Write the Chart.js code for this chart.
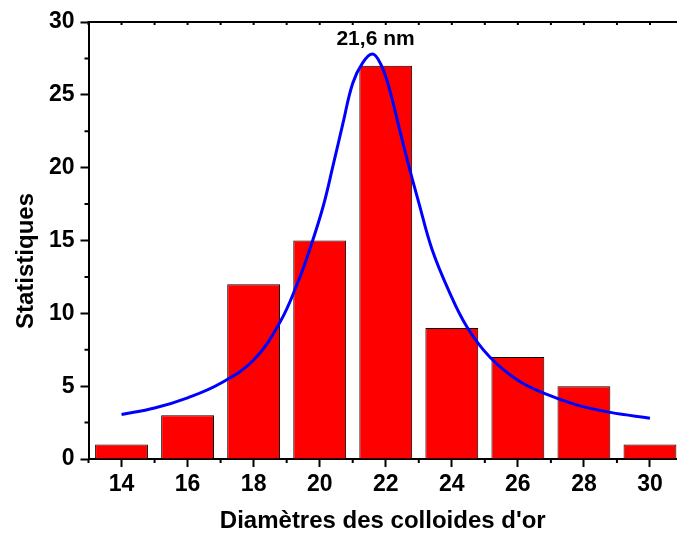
<!DOCTYPE html>
<html>
<head>
<meta charset="utf-8">
<script src="https://cdn.jsdelivr.net/npm/chart.js@4.4.0/dist/chart.umd.min.js"></script>
<style>
html,body{margin:0;padding:0;overflow:hidden;background:#fff}
#wrap{width:677px;height:537px;overflow:hidden}
</style>
</head>
<body>
<div id="wrap"><canvas id="myChart" width="700" height="537"></canvas></div>
<script>
// histogram
var diameters = [14, 16, 18, 20, 22, 24, 26, 28, 30];
var counts = [1, 3, 12, 15, 27, 9, 7, 5, 1];

// fitted curve
var fitX = [14.0, 15.0, 16.0, 17.0, 18.0, 18.8, 19.35, 19.7, 20.1, 20.4, 20.7, 21.0, 21.3, 21.6,
            21.85, 22.1, 22.4, 22.7, 23.0, 23.4, 23.9, 24.45, 25.15, 26.0, 26.8, 27.8, 28.8, 30.0];
var fitY = [3.05, 3.5, 4.2, 5.2, 6.8, 9.4, 12.2, 14.4, 17.3, 20.1, 23.0, 25.8, 27.2, 27.8,
            27.1, 25.5, 22.8, 20.1, 17.6, 14.4, 11.6, 9.1, 7.0, 5.4, 4.5, 3.7, 3.2, 2.8];

var xTicks = [14, 16, 18, 20, 22, 24, 26, 28, 30];
var xMinorTicks = [13, 15, 17, 19, 21, 23, 25, 27, 29, 31];
var topTicks = [13, 14, 15, 16, 17, 18, 19, 20, 21, 22, 23, 24, 25, 26, 27, 28, 29, 30, 31];
var yTicks = [0, 5, 10, 15, 20, 25, 30];
var yMinorTicks = [2.5, 7.5, 12.5, 17.5, 22.5, 27.5];

var peakLabel = "21,6 nm";
var xTitle = "Diamètres des colloides d'or";
var yTitle = "Statistiques";

var font = '"Liberation Sans", Arial, sans-serif';

var barData = diameters.map(function(d, i){ return {x: d, y: counts[i]}; });
var fitData = fitX.map(function(x, i){ return {x: x, y: fitY[i]}; });

var extras = {
	id: 'extras',
	afterDraw: function(chart){
		var ctx = chart.ctx, a = chart.chartArea;
		var xs = chart.scales.x, ys = chart.scales.y;
		ctx.save();
		ctx.strokeStyle = '#000';
		ctx.lineWidth = 2;
		ctx.beginPath();
		// top frame
		ctx.moveTo(a.left - 1, a.top);
		ctx.lineTo(a.right, a.top);
		xMinorTicks.forEach(function(v){
			var p = xs.getPixelForValue(v);
			ctx.moveTo(p, a.bottom);
			ctx.lineTo(p, a.bottom + 4);
		});
		yMinorTicks.forEach(function(v){
			var p = ys.getPixelForValue(v);
			ctx.moveTo(a.left, p);
			ctx.lineTo(a.left - 4, p);
		});
		topTicks.forEach(function(v){
			var p = xs.getPixelForValue(v);
			ctx.moveTo(p, a.top);
			ctx.lineTo(p, a.top + 3);
		});
		ctx.stroke();

		ctx.fillStyle = '#000';
		ctx.textAlign = 'center';
		ctx.textBaseline = 'alphabetic';
		ctx.font = 'bold 21px ' + font;
		ctx.fillText(peakLabel, xs.getPixelForValue(21.6) + 3, ys.getPixelForValue(28.4));

		ctx.font = 'bold 24px ' + font;
		ctx.fillText(xTitle, (a.left + a.right) / 2 - 3, 528);

		ctx.translate(33, 261);
		ctx.rotate(-Math.PI / 2);
		ctx.fillText(yTitle, 0, 0);
		ctx.restore();
	}
};

var myChart = document.getElementById("myChart").getContext('2d');
var chart = new Chart(myChart, {
	type: 'bar',
	data: {
		datasets: [
			{
				type: 'line',
				label: 'Fit',
				data: fitData,
				borderColor: '#0000ff',
				borderWidth: 3,
				pointRadius: 0,
				fill: false,
				tension: 0.4,
				order: 0
			},
			{
				label: 'Statistiques',
				data: barData,
				backgroundColor: '#ff0000',
				borderColor: '#000000',
				borderWidth: 1,
				barPercentage: 0.8,
				categoryPercentage: 1,
				order: 1
			}
		]
	},
	options: {
		responsive: false,
		animation: false,
		layout: { padding: { top: 22, right: 17, left: 0, bottom: 0 } },
		plugins: { legend: { display: false }, tooltip: { enabled: false } },
		scales: {
			x: {
				type: 'linear',
				min: 13,
				max: 31,
				offset: false,
				afterBuildTicks: function(s){ s.ticks = xTicks.map(function(v){ return {value: v}; }); },
				afterFit: function(s){ s.height = 78; },
				border: { color: '#000', width: 2 },
				grid: { offset: false, drawOnChartArea: false, tickLength: 8, tickWidth: 2, tickColor: '#000' },
				ticks: { color: '#000', padding: 4, maxRotation: 0, font: { family: font, size: 23, weight: 'bold' } }
			},
			y: {
				min: 0,
				max: 30,
				afterBuildTicks: function(s){ s.ticks = yTicks.map(function(v){ return {value: v}; }); },
				afterFit: function(s){ s.width = 88.5; },
				border: { color: '#000', width: 2 },
				grid: { drawOnChartArea: false, tickLength: 8, tickWidth: 2, tickColor: '#000' },
				ticks: { color: '#000', padding: 6, font: { family: font, size: 23, weight: 'bold' } }
			}
		}
	},
	plugins: [extras]
});
</script>
</body>
</html>
